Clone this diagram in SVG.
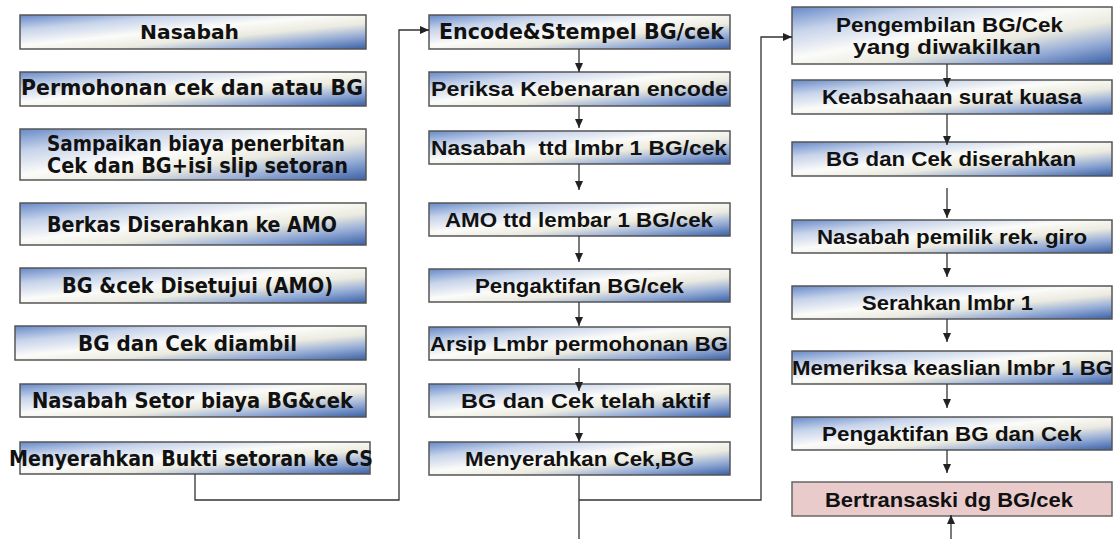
<svg xmlns="http://www.w3.org/2000/svg" width="1116" height="539" viewBox="0 0 1116 539">
  <defs>
    <linearGradient id="boxFill" x1="0" y1="0" x2="1" y2="1">
      <stop offset="0" stop-color="#6689c8"/>
      <stop offset="0.22" stop-color="#c6d3ea"/>
      <stop offset="0.45" stop-color="#fbfbf9"/>
      <stop offset="0.62" stop-color="#ecebe0"/>
      <stop offset="0.8" stop-color="#95acd6"/>
      <stop offset="1" stop-color="#3a60a6"/>
    </linearGradient>
    <!-- filled triangular arrowhead, follows the line direction -->
    <marker id="head" markerWidth="9" markerHeight="8" refX="9" refY="4" orient="auto" markerUnits="userSpaceOnUse" viewBox="0 0 9 8">
      <path d="M0,0 L9,4 L0,8 Z" fill="#222"/>
    </marker>
  </defs>
  <style>
    .box { fill: url(#boxFill); stroke: #555; stroke-width: 1.5; }
    .pink { fill: #e9cbcb; stroke: #666; stroke-width: 1.5; }
    .gothic { font-family: "DejaVu Sans", "Liberation Sans", sans-serif; font-weight: bold; font-size: 21px; fill: #111; white-space: pre; }
    .arial { font-family: "Liberation Sans", Arial, sans-serif; font-weight: bold; font-size: 21px; fill: #111; white-space: pre; }
    .line { fill: none; stroke: #333; stroke-width: 1.3; }
  </style>

  <rect width="1116" height="539" fill="#ffffff"/>

  <!-- left column -->
  <g id="n-nasabah">
    <rect class="box" x="20" y="15" width="346" height="34"/>
    <text class="gothic" x="140" y="39" textLength="99" lengthAdjust="spacingAndGlyphs" style="font-size:19px">Nasabah</text>
  </g>
  <g id="n-permohonan">
    <rect class="box" x="20" y="72" width="346" height="34"/>
    <text class="gothic" x="21" y="95" textLength="342" lengthAdjust="spacingAndGlyphs">Permohonan cek dan atau BG</text>
  </g>
  <g id="n-sampaikan">
    <rect class="box" x="20" y="129" width="346" height="51"/>
    <text class="gothic" x="47" y="151" textLength="298" lengthAdjust="spacingAndGlyphs">Sampaikan biaya penerbitan</text>
    <text class="gothic" x="47" y="173" textLength="301" lengthAdjust="spacingAndGlyphs">Cek dan BG+isi slip setoran</text>
  </g>
  <g id="n-berkas">
    <rect class="box" x="20" y="203" width="346" height="42"/>
    <text class="gothic" x="47" y="232" textLength="290" lengthAdjust="spacingAndGlyphs">Berkas Diserahkan ke AMO</text>
  </g>
  <g id="n-disetujui">
    <rect class="box" x="20" y="268" width="346" height="35"/>
    <text class="gothic" x="62" y="293" textLength="271" lengthAdjust="spacingAndGlyphs">BG &amp;cek Disetujui (AMO)</text>
  </g>
  <g id="n-diambil">
    <rect class="box" x="15" y="326" width="351" height="34"/>
    <text class="gothic" x="78" y="351" textLength="219" lengthAdjust="spacingAndGlyphs">BG dan Cek diambil</text>
  </g>
  <g id="n-setor">
    <rect class="box" x="20" y="384" width="346" height="33"/>
    <text class="gothic" x="32" y="408" textLength="321" lengthAdjust="spacingAndGlyphs">Nasabah Setor biaya BG&amp;cek</text>
  </g>
  <g id="n-bukti">
    <rect class="box" x="20" y="442" width="350" height="32"/>
    <text class="gothic" x="9" y="466" textLength="364" lengthAdjust="spacingAndGlyphs">Menyerahkan Bukti setoran ke CS</text>
  </g>

  <!-- middle column -->
  <g id="n-encode">
    <rect class="box" x="429" y="15" width="301" height="34"/>
    <text class="gothic" x="439" y="39" textLength="285" lengthAdjust="spacingAndGlyphs">Encode&amp;Stempel BG/cek</text>
  </g>
  <g id="n-periksa">
    <rect class="box" x="429" y="72" width="301" height="34"/>
    <text class="arial" x="431" y="96" textLength="297" lengthAdjust="spacingAndGlyphs">Periksa Kebenaran encode</text>
  </g>
  <g id="n-ttd-nasabah">
    <rect class="box" x="429" y="131" width="301" height="33"/>
    <text class="arial" x="431" y="155" textLength="296" lengthAdjust="spacingAndGlyphs">Nasabah  ttd lmbr 1 BG/cek</text>
  </g>
  <g id="n-ttd-amo">
    <rect class="box" x="429" y="203" width="301" height="33"/>
    <text class="arial" x="445" y="227" textLength="268" lengthAdjust="spacingAndGlyphs">AMO ttd lembar 1 BG/cek</text>
  </g>
  <g id="n-aktif-bgcek">
    <rect class="box" x="429" y="269" width="301" height="33"/>
    <text class="arial" x="475" y="293" textLength="209" lengthAdjust="spacingAndGlyphs">Pengaktifan BG/cek</text>
  </g>
  <g id="n-arsip">
    <rect class="box" x="429" y="327" width="301" height="33"/>
    <text class="arial" x="430" y="351" textLength="298" lengthAdjust="spacingAndGlyphs">Arsip Lmbr permohonan BG</text>
  </g>
  <g id="n-telah-aktif">
    <rect class="box" x="429" y="384" width="301" height="33"/>
    <text class="arial" x="461" y="408" textLength="249" lengthAdjust="spacingAndGlyphs">BG dan Cek telah aktif</text>
  </g>
  <g id="n-serah-cekbg">
    <rect class="box" x="429" y="442" width="301" height="33"/>
    <text class="arial" x="465" y="466" textLength="229" lengthAdjust="spacingAndGlyphs">Menyerahkan Cek,BG</text>
  </g>

  <!-- right column -->
  <g id="n-pengembilan">
    <rect class="box" x="792" y="7" width="320" height="57"/>
    <text class="arial" x="836" y="32" textLength="227" lengthAdjust="spacingAndGlyphs">Pengembilan BG/Cek</text>
    <text class="arial" x="853" y="54" textLength="188" lengthAdjust="spacingAndGlyphs">yang diwakilkan</text>
  </g>
  <g id="n-keabsahaan">
    <rect class="box" x="792" y="80" width="320" height="34"/>
    <text class="arial" x="822" y="104" textLength="260" lengthAdjust="spacingAndGlyphs">Keabsahaan surat kuasa</text>
  </g>
  <g id="n-diserahkan">
    <rect class="box" x="792" y="142" width="320" height="34"/>
    <text class="arial" x="826" y="166" textLength="250" lengthAdjust="spacingAndGlyphs">BG dan Cek diserahkan</text>
  </g>
  <g id="n-pemilik">
    <rect class="box" x="792" y="220" width="320" height="33"/>
    <text class="arial" x="817" y="244" textLength="270" lengthAdjust="spacingAndGlyphs">Nasabah pemilik rek. giro</text>
  </g>
  <g id="n-serahkan">
    <rect class="box" x="792" y="286" width="320" height="33"/>
    <text class="arial" x="862" y="310" textLength="171" lengthAdjust="spacingAndGlyphs">Serahkan lmbr 1</text>
  </g>
  <g id="n-memeriksa">
    <rect class="box" x="792" y="351" width="320" height="33"/>
    <text class="arial" x="792" y="375" textLength="321" lengthAdjust="spacingAndGlyphs">Memeriksa keaslian lmbr 1 BG</text>
  </g>
  <g id="n-aktif-bgdancek">
    <rect class="box" x="792" y="417" width="320" height="33"/>
    <text class="arial" x="822" y="441" textLength="260" lengthAdjust="spacingAndGlyphs">Pengaktifan BG dan Cek</text>
  </g>
  <g id="n-bertransaksi">
    <rect class="pink" x="792" y="482" width="320" height="34"/>
    <text class="arial" x="825" y="507" textLength="248" lengthAdjust="spacingAndGlyphs">Bertransaski dg BG/cek</text>
  </g>

  <!-- connectors, drawn over the boxes so arrowheads stay visible -->
  <g id="connectors">
    <!-- left column into Encode box -->
    <polyline class="line" points="195,474 195,500 399,500 399,30 429,30" marker-end="url(#head)"/>
    <!-- middle column chain -->
    <line class="line" x1="579" y1="49" x2="579" y2="72" marker-end="url(#head)"/>
    <line class="line" x1="579" y1="106" x2="579" y2="128" marker-end="url(#head)"/>
    <line class="line" x1="579" y1="164" x2="579" y2="190" marker-end="url(#head)"/>
    <line class="line" x1="579" y1="236" x2="579" y2="262" marker-end="url(#head)"/>
    <line class="line" x1="579" y1="302" x2="579" y2="326" marker-end="url(#head)"/>
    <line class="line" x1="579" y1="368" x2="579" y2="391" marker-end="url(#head)"/>
    <line class="line" x1="579" y1="417" x2="579" y2="442" marker-end="url(#head)"/>
    <!-- from Menyerahkan Cek,BG -->
    <line class="line" x1="579" y1="475" x2="579" y2="539"/>
    <polyline class="line" points="579,500 761,500 761,37 792,37" marker-end="url(#head)"/>
    <!-- right column chain -->
    <line class="line" x1="947" y1="64" x2="947" y2="87" marker-end="url(#head)"/>
    <line class="line" x1="947" y1="114" x2="947" y2="145" marker-end="url(#head)"/>
    <line class="line" x1="947" y1="188" x2="947" y2="218" marker-end="url(#head)"/>
    <line class="line" x1="947" y1="253" x2="947" y2="277" marker-end="url(#head)"/>
    <line class="line" x1="947" y1="319" x2="947" y2="342" marker-end="url(#head)"/>
    <line class="line" x1="947" y1="384" x2="947" y2="408" marker-end="url(#head)"/>
    <line class="line" x1="947" y1="450" x2="947" y2="473" marker-end="url(#head)"/>
    <!-- incoming from below -->
    <line class="line" x1="951" y1="539" x2="951" y2="515" marker-end="url(#head)"/>
  </g>
</svg>
